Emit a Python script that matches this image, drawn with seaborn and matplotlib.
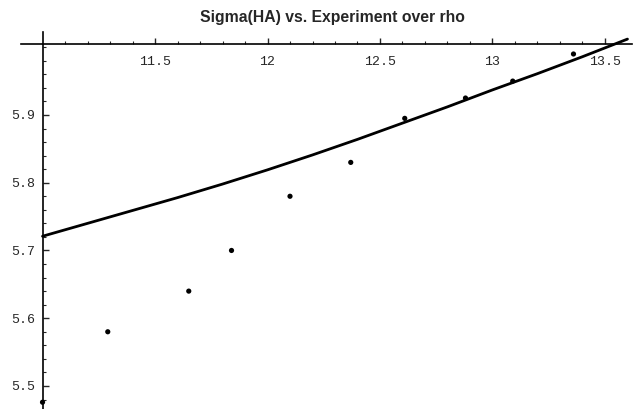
import numpy as np
import pandas as pd
import matplotlib
matplotlib.use("Agg")
import matplotlib.pyplot as plt
import seaborn as sns
from matplotlib.ticker import FixedLocator

# experiment points
rho_exp = [11.0, 11.29, 11.65, 11.84, 12.10, 12.37, 12.61, 12.88, 13.09, 13.36]
sigma_exp = [5.476, 5.58, 5.64, 5.70, 5.78, 5.83, 5.895, 5.925, 5.95, 5.99]

# Sigma(HA) curve
rho_line = [11.0, 11.2, 11.4, 11.6, 11.8, 12.0, 12.2, 12.4, 12.6, 12.8, 13.0, 13.2, 13.4, 13.6]
sigma_line = [5.721, 5.740, 5.759, 5.778, 5.798, 5.819, 5.841, 5.864, 5.888, 5.912,
              5.937, 5.961, 5.986, 6.012]

x_ticks = [11.5, 12, 12.5, 13, 13.5]
x_labels = ["11.5", "12", "12.5", "13", "13.5"]
y_ticks = [5.5, 5.6, 5.7, 5.8, 5.9]
y_labels = ["5.5", "5.6", "5.7", "5.8", "5.9"]

df_exp = pd.DataFrame({"rho": rho_exp, "sigma": sigma_exp})
df_line = pd.DataFrame({"rho": rho_line, "sigma": sigma_line})

sns.set_style("white")
fig = plt.figure(figsize=(6.34, 4.09), dpi=100)
ax = fig.add_axes([0, 0, 1, 1])

sns.lineplot(data=df_line, x="rho", y="sigma", color="black", linewidth=2.0, ax=ax)
sns.scatterplot(data=df_exp, x="rho", y="sigma", color="black", s=14, edgecolor="none",
                ax=ax, zorder=3, clip_on=False)

ax.set_xlim(10.811, 13.629)
ax.set_ylim(5.466, 6.0697)

# axes cross near (11, 6.0) like the original
ax.spines["left"].set_position(("data", 11.0))
ax.spines["bottom"].set_position(("data", 6.005))
ax.spines["left"].set_bounds(5.466, 6.022)
ax.spines["bottom"].set_bounds(10.905, 13.62)
ax.spines["top"].set_visible(False)
ax.spines["right"].set_visible(False)
for s in ["left", "bottom"]:
    ax.spines[s].set_linewidth(1.2)
    ax.spines[s].set_color("black")

x_minor = [round(11.1 + 0.1 * i, 2) for i in range(25)]
y_minor = [round(5.48 + 0.02 * i, 2) for i in range(27)]

ax.xaxis.set_major_locator(FixedLocator(x_ticks))
ax.set_xticklabels(x_labels, family="Liberation Mono", fontsize=9.5)
ax.xaxis.set_minor_locator(FixedLocator(x_minor))
ax.yaxis.set_major_locator(FixedLocator(y_ticks))
ax.set_yticklabels(y_labels, family="Liberation Mono", fontsize=9.5)
ax.yaxis.set_minor_locator(FixedLocator(y_minor))

ax.tick_params(axis="x", which="major", direction="in", length=4.5, width=1, pad=9, bottom=True)
ax.tick_params(axis="x", which="minor", direction="in", length=2.2, width=0.8, bottom=True)
ax.tick_params(axis="y", which="major", direction="in", length=4.5, width=1, pad=5, left=True)
ax.tick_params(axis="y", which="minor", direction="in", length=2.2, width=0.8, left=True)

ax.set_xlabel("")
ax.set_ylabel("")

fig.text(0.525, 0.958, "Sigma(HA) vs. Experiment over rho", ha="center", va="center",
         family="Liberation Sans", fontweight="bold", fontsize=11.3)

fig.savefig("out.png", dpi=100)
